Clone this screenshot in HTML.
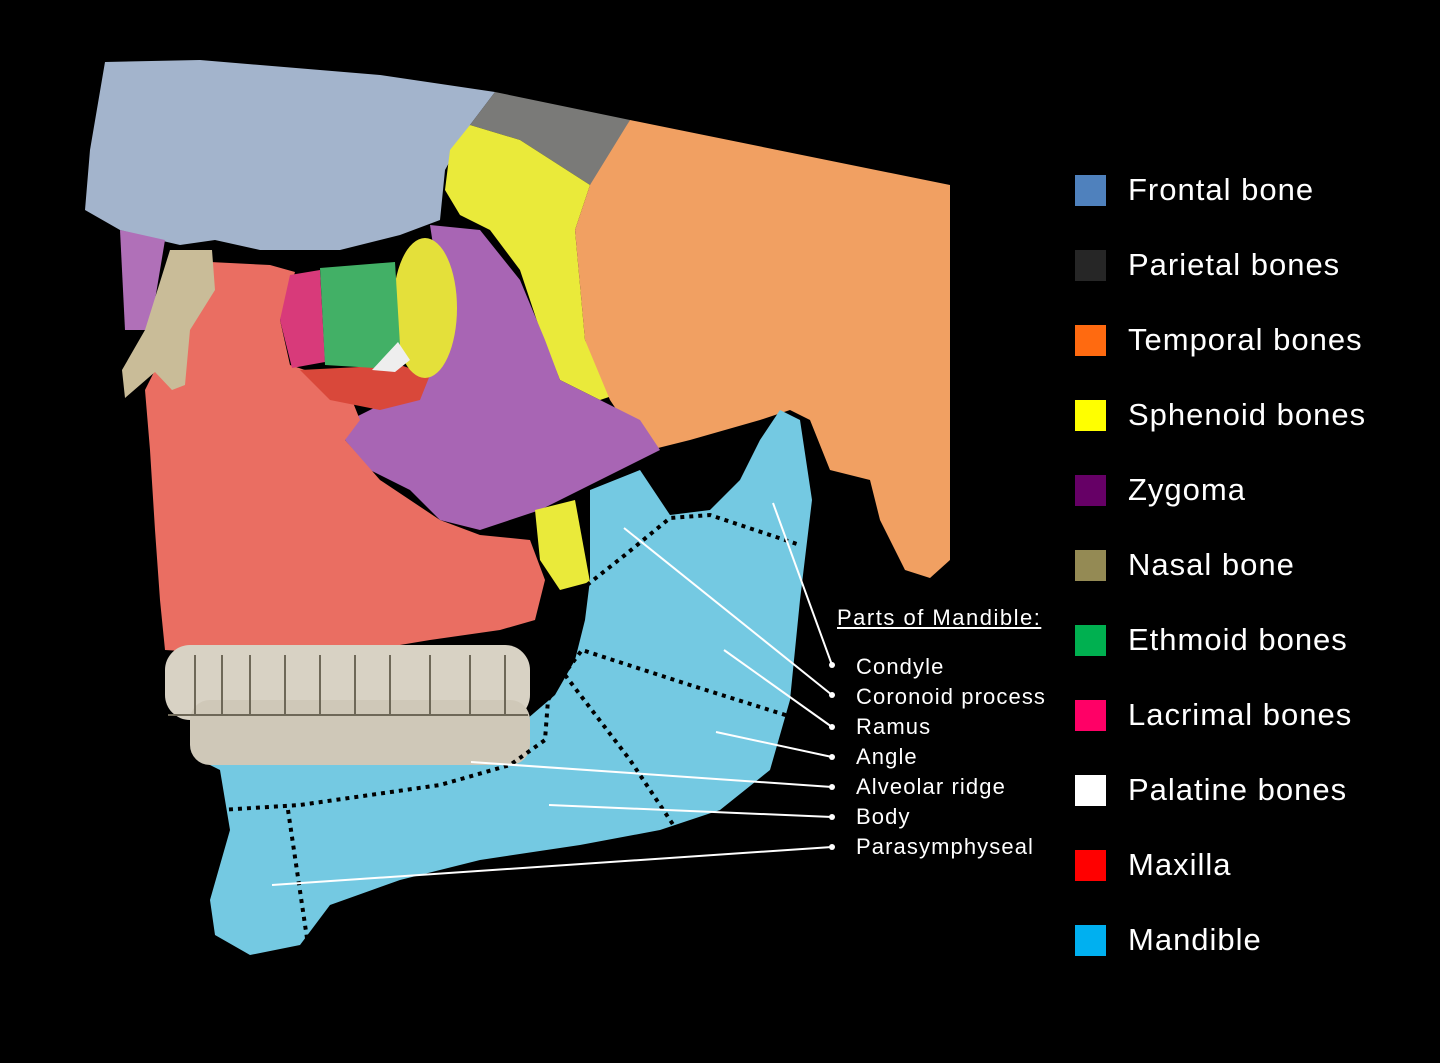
<!DOCTYPE html>
<html><head><style>
body{margin:0;background:#000;width:1440px;height:1063px;overflow:hidden;position:relative;font-family:"Liberation Sans",sans-serif}
.lg{position:absolute;left:1075px;width:31px;height:31px}
.lt{position:absolute;left:1128px;color:#fff;font-size:31px;line-height:36px;letter-spacing:1px}
.ml{position:absolute;left:856px;color:#fff;font-size:22px;line-height:26px;letter-spacing:1.1px}
</style></head><body>
<svg width="1440" height="1063" style="position:absolute;left:0;top:0">
<polygon fill="#a3b4cc" points="105,62 200,60 380,75 495,92 470,125 445,170 440,220 400,235 340,250 260,250 215,240 180,245 150,238 120,230 85,210 90,150"/>
<polygon fill="#7a7a78" points="495,92 630,120 600,175 590,185 520,140 470,125"/>
<polygon fill="#eaea3a" points="470,125 520,140 590,185 575,230 585,340 615,395 600,400 560,380 540,330 520,270 490,230 460,215 445,190 450,150"/>
<polygon fill="#f1a062" points="630,120 950,185 950,560 930,578 905,570 880,520 870,480 830,470 810,420 790,410 760,420 690,440 650,450 630,430 610,400 585,340 575,230 590,185"/>
<polygon fill="#a865b4" points="430,225 480,230 520,280 545,340 560,380 600,400 640,420 660,450 600,480 540,510 480,530 440,520 410,490 370,470 345,440 350,420 400,395 430,370 445,330 440,290"/>
<polygon fill="#b070b8" points="120,230 165,240 150,330 125,330"/>
<polygon fill="#eaea3a" points="535,510 575,500 590,582 560,590 540,560"/>
<polygon fill="#ea6e62" points="210,262 270,265 295,272 280,320 290,365 320,375 350,395 360,420 345,440 380,480 440,520 480,535 530,540 545,580 535,620 500,630 430,640 340,655 250,655 165,650 160,600 155,530 150,450 145,390 155,370 175,360 195,300"/>
<polygon fill="#d9483a" points="300,370 400,365 430,375 420,400 380,410 330,400"/>
<ellipse cx="425" cy="308" rx="32" ry="70" fill="#e4e03a"/>
<polygon fill="#d83a7a" points="290,275 320,270 325,362 292,368 280,320"/>
<polygon fill="#42b066" points="320,268 395,262 400,345 375,368 325,365"/>
<polygon fill="#eee" points="372,370 398,342 410,360 395,372"/>
<polygon fill="#c9bc98" points="170,250 212,250 215,290 190,330 185,385 172,390 155,372 125,398 122,370 145,330"/>
<polygon fill="#74c9e2" points="590,490 640,470 670,515 710,510 740,480 760,440 780,410 800,420 812,500 800,600 790,700 770,770 720,810 660,830 580,845 480,860 400,880 330,905 300,945 250,955 215,935 210,900 230,830 220,770 200,760 300,760 440,740 520,725 555,695 575,660 585,620 590,580"/>
<rect x="165" y="645" width="365" height="75" rx="25" fill="#d8d2c4"/>
<rect x="190" y="700" width="340" height="65" rx="20" fill="#cfc8b8"/>
<g stroke="#6e6858" stroke-width="2" fill="none">
<path d="M195 655v60M222 655v60M250 655v60M285 655v60M320 655v60M355 655v60M390 655v60M430 655v60M470 655v60M505 655v60"/>
<path d="M168 715h360"/>
</g>
<g stroke="#000" stroke-width="4" stroke-dasharray="4 5" fill="none">
<polyline points="587,585 625,555 670,518 710,515 800,545"/>
<polyline points="220,810 300,805 440,785 510,765 545,740 548,700 567,670 582,650 690,685 795,718"/>
<polyline points="565,675 630,760 680,835"/>
<polyline points="288,810 308,945"/>
</g>
<g stroke="#fff" stroke-width="2">
<line x1="773" y1="503" x2="832" y2="665"/>
<line x1="624" y1="528" x2="832" y2="695"/>
<line x1="724" y1="650" x2="832" y2="727"/>
<line x1="716" y1="732" x2="832" y2="757"/>
<line x1="471" y1="762" x2="832" y2="787"/>
<line x1="549" y1="805" x2="832" y2="817"/>
<line x1="272" y1="885" x2="832" y2="847"/>
</g>
<g fill="#fff"><circle cx="832" cy="665" r="3"/><circle cx="832" cy="695" r="3"/><circle cx="832" cy="727" r="3"/><circle cx="832" cy="757" r="3"/><circle cx="832" cy="787" r="3"/><circle cx="832" cy="817" r="3"/><circle cx="832" cy="847" r="3"/></g>
</svg>
<div class="ml" style="left:837px;top:605px;text-decoration:underline;letter-spacing:1.5px">Parts of Mandible:</div>
<div class="ml" style="top:654px">Condyle</div>
<div class="ml" style="top:684px">Coronoid process</div>
<div class="ml" style="top:714px">Ramus</div>
<div class="ml" style="top:744px">Angle</div>
<div class="ml" style="top:774px">Alveolar ridge</div>
<div class="ml" style="top:804px">Body</div>
<div class="ml" style="top:834px">Parasymphyseal</div>
<div class="lg" style="top:175px;background:#4f81bd"></div><div class="lt" style="top:172px">Frontal bone</div>
<div class="lg" style="top:250px;background:#262626"></div><div class="lt" style="top:247px">Parietal bones</div>
<div class="lg" style="top:325px;background:#ff6a10"></div><div class="lt" style="top:322px">Temporal bones</div>
<div class="lg" style="top:400px;background:#ffff00"></div><div class="lt" style="top:397px">Sphenoid bones</div>
<div class="lg" style="top:475px;background:#660066"></div><div class="lt" style="top:472px">Zygoma</div>
<div class="lg" style="top:550px;background:#948a54"></div><div class="lt" style="top:547px">Nasal bone</div>
<div class="lg" style="top:625px;background:#00b050"></div><div class="lt" style="top:622px">Ethmoid bones</div>
<div class="lg" style="top:700px;background:#ff0066"></div><div class="lt" style="top:697px">Lacrimal bones</div>
<div class="lg" style="top:775px;background:#ffffff"></div><div class="lt" style="top:772px">Palatine bones</div>
<div class="lg" style="top:850px;background:#ff0000"></div><div class="lt" style="top:847px">Maxilla</div>
<div class="lg" style="top:925px;background:#00b0f0"></div><div class="lt" style="top:922px">Mandible</div>
</body></html>
